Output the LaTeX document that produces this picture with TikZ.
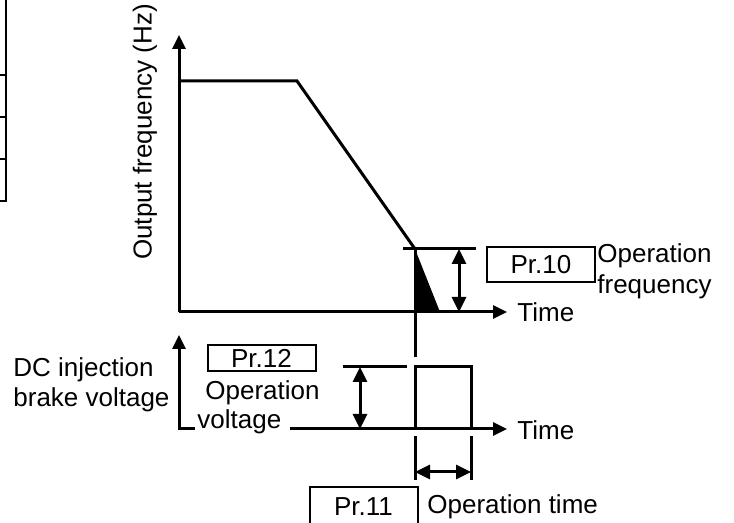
\documentclass[tikz,border=0pt]{standalone}
\usepackage{fontspec}
\setmainfont{Liberation Sans}
\usetikzlibrary{arrows.meta}
\begin{document}
\begin{tikzpicture}[x=0.5pt,y=-0.5pt,
  every node/.style={inner sep=0pt, font=\fontsize{13}{15.5}\selectfont},
  axis/.style={line width=1.5pt},
  frame/.style={line width=1pt},
  tip/.style={-{Triangle[length=7pt,width=6.5pt]}},
  dbl/.style={{Triangle[length=7.5pt,width=7pt]}-{Triangle[length=7.5pt,width=7pt]}},
  prbox/.style={draw, line width=1pt, minimum width=54pt, minimum height=17.5pt},
  ]
\useasboundingbox (0,0) rectangle (734,523);
\clip (0,0) rectangle (734,523);
% table fragment top-left
\draw[frame] (6,0) -- (6,201) -- (0,201);
\draw[frame] (0,75) -- (6,75);
\draw[frame] (0,117) -- (6,117);
\draw[frame] (0,159) -- (6,159);
% top graph
\coordinate (O1) at (179,312);
\coordinate (Ytop) at (179,35);
\coordinate (Xend) at (507,312);
\coordinate (P1) at (179,81);
\coordinate (P2) at (297,81);
\coordinate (P3) at (415,249);
\draw[axis,tip] (O1) -- (Ytop);
\draw[axis,tip] (O1) -- (Xend);
\draw[axis] (P1) -- (P2) -- (P3);
\fill (P3) -- (440,312) -- (415,312) -- cycle;
\draw[axis] (P3) -- (415,357);
\draw[axis] (403,249) -- (476,249);
\draw[axis,dbl] (459,249) -- (459,312);
\node[anchor=west] (time1) at (517,312) {Time};
\node[prbox] (pr10) at (541,264.5) {Pr.10};
\node[anchor=base west] (of1) at (597,263) {Operation};
\node[anchor=base west] (of2) at (597,294) {frequency};
\node[rotate=90] (ylab) at (145,132) {Output frequency (Hz)};
% bottom graph
\node[anchor=base west] (dc1) at (13,377) {DC injection};
\node[anchor=base west] (dc2) at (13,407) {brake voltage};
\node[prbox, minimum height=13pt] (pr12) at (261.5,358) {Pr.12};
\node[anchor=base west] (ov1) at (205,400) {Operation};
\node[anchor=base west] (ov2) at (197,429) {voltage};
\draw[axis,tip] ([xshift=-1pt]ov2.base west) -- (179,429) -- (179,335);
\draw[axis,tip] ([xshift=4pt]ov2.base east) -- (507,429);
\node[anchor=west] (time2) at (517,430) {Time};
\draw[axis] (343,367) -- (407,367);
\draw[axis,dbl] (360,367) -- (360,429);
\draw[axis] (415,429) -- (415,367) -- (471,367) -- (471,429);
\draw[axis] (415,436) -- (415,480);
\draw[axis] (471,436) -- (471,480);
\draw[axis,dbl] (415,472) -- (471,472);
\node[prbox, minimum height=19pt] (pr11) at (363.5,506.5) {Pr.11};
\node[anchor=base west] (ot) at (427,514) {Operation time};
\end{tikzpicture}
\end{document}
